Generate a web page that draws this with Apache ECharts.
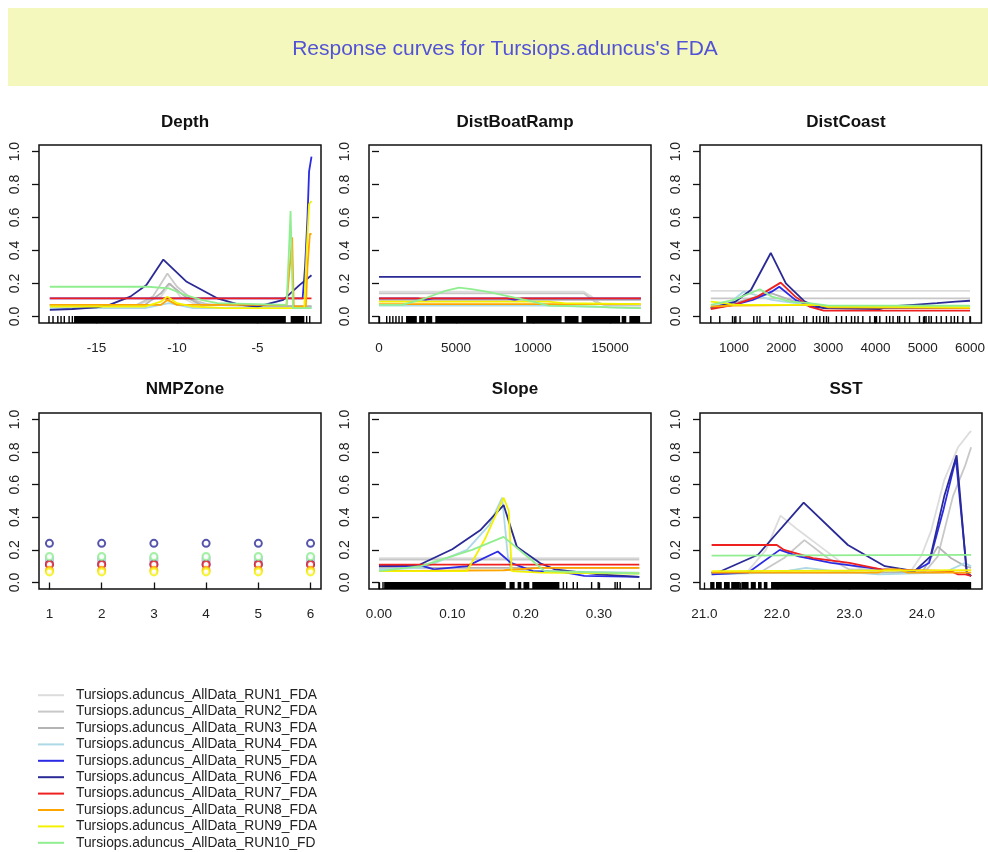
<!DOCTYPE html>
<html>
<head>
<meta charset="utf-8">
<script src="https://cdn.jsdelivr.net/npm/echarts@6/dist/echarts.min.js"></script>
<style>
html,body{margin:0;padding:0;background:#fff;}
#chart{width:988px;height:852px;}
</style>
</head>
<body>
<div id="chart"></div>
<script>
// ---------------- DATA ----------------
const mainTitle = "Response curves for Tursiops.aduncus's FDA";
const panelTitles = ["Depth", "DistBoatRamp", "DistCoast", "NMPZone", "Slope", "SST"];
const runNames = [
  "Tursiops.aduncus_AllData_RUN1_FDA", "Tursiops.aduncus_AllData_RUN2_FDA",
  "Tursiops.aduncus_AllData_RUN3_FDA", "Tursiops.aduncus_AllData_RUN4_FDA",
  "Tursiops.aduncus_AllData_RUN5_FDA", "Tursiops.aduncus_AllData_RUN6_FDA",
  "Tursiops.aduncus_AllData_RUN7_FDA", "Tursiops.aduncus_AllData_RUN8_FDA",
  "Tursiops.aduncus_AllData_RUN9_FDA", "Tursiops.aduncus_AllData_RUN10_FDA"
];
const runColors = ["#dcdcdc", "#c8c8c8", "#b4b4b4", "#add8e6", "#2b2be6", "#2a2a96",
                   "#ee2020", "#ffa500", "#f2f200", "#90ee90"];

const yTicks = [0, 0.2, 0.4, 0.6, 0.8, 1.0];

// Depth
const depthTicks = [-15, -10, -5];
const depthCurves = [
  [[-17.9,0.07],[-12.5,0.07],[-11,0.12],[-10.4,0.2],[-9.8,0.12],[-9,0.08],[-7,0.07],[-1.65,0.06]],
  [[-17.9,0.07],[-12.5,0.07],[-11.5,0.12],[-10.6,0.26],[-10,0.18],[-9,0.1],[-8,0.07],[-1.65,0.06]],
  [[-17.9,0.07],[-12,0.07],[-11,0.14],[-10.5,0.2],[-9.5,0.12],[-8.5,0.07],[-1.65,0.06]],
  [[-17.9,0.05],[-12,0.05],[-10.5,0.08],[-9,0.05],[-1.65,0.05]],
  [[-17.9,0.11],[-2.2,0.11],[-2.05,0.3],[-1.9,0.6],[-1.8,0.88],[-1.65,0.97]],
  [[-17.9,0.04],[-16.5,0.045],[-15,0.055],[-14.2,0.07],[-12.9,0.12],[-11.9,0.19],[-10.85,0.345],[-9.4,0.21],[-7.5,0.11],[-6.1,0.07],[-5,0.06],[-3.4,0.1],[-2.4,0.19],[-1.65,0.25]],
  [[-17.9,0.11],[-1.65,0.11]],
  [[-17.9,0.07],[-11,0.07],[-10.6,0.1],[-10,0.07],[-3.2,0.07],[-3.0,0.3],[-2.85,0.48],[-2.75,0.06],[-2.0,0.06],[-1.9,0.3],[-1.75,0.5],[-1.65,0.5]],
  [[-17.9,0.06],[-12,0.06],[-11,0.09],[-10.6,0.12],[-10,0.08],[-9,0.06],[-7,0.05],[-2.1,0.05],[-1.95,0.4],[-1.8,0.68],[-1.65,0.7]],
  [[-17.9,0.18],[-11.8,0.18],[-10.5,0.17],[-9.5,0.13],[-8.5,0.1],[-7.5,0.08],[-3.2,0.07],[-3.05,0.4],[-2.95,0.64],[-2.8,0.05],[-1.65,0.05]]
];
const depthRug = [[-17.95,-17.95],[-17.7,-17.7],[-17.4,-17.4],[-17.2,-17.2],[-17.0,-17.0],[-16.7,-16.7],[-16.5,-16.5],
  [-16.35,-3.2],[-2.9,-2.05],[-1.95,-1.95],[-1.76,-1.76]];

// DistBoatRamp
const boatTicks = [0, 5000, 10000, 15000];
const boatCurves = [
  [[0,0.15],[13300,0.15],[13800,0.12],[14500,0.07],[17000,0.07]],
  [[0,0.14],[13300,0.14],[14000,0.09],[14800,0.065],[17000,0.065]],
  [[0,0.1],[17000,0.1]],
  [[0,0.065],[11000,0.065],[15000,0.055],[17000,0.05]],
  [[0,0.11],[2500,0.11],[3000,0.1],[3500,0.11],[8300,0.11],[8800,0.1],[9300,0.11],[17000,0.11]],
  [[0,0.24],[17000,0.24]],
  [[0,0.11],[17000,0.11]],
  [[0,0.075],[17000,0.075]],
  [[0,0.09],[11000,0.09],[12000,0.08],[17000,0.075]],
  [[0,0.07],[1500,0.07],[3000,0.11],[4300,0.155],[5200,0.175],[6000,0.165],[7000,0.15],[8500,0.12],[10000,0.09],[11000,0.065],[14000,0.06],[15000,0.055],[17000,0.05]]
];
const boatRug = [[0,0],[500,500],[700,700],[900,900],[1100,1100],[1300,1300],[1500,1500],
  [1800,2500],[2650,3000],[3100,3500],[3700,9400],[9600,11900],[12100,13000],[13200,15700],[15800,16100],[16300,17000]];

// DistCoast
const coastTicks = [1000, 2000, 3000, 4000, 5000, 6000];
const coastCurves = [
  [[510,0.155],[6000,0.155]],
  [[510,0.11],[6000,0.11]],
  [[510,0.05],[1000,0.08],[1500,0.12],[1800,0.14],[2100,0.11],[2600,0.06],[6000,0.05]],
  [[510,0.06],[900,0.08],[1200,0.15],[1450,0.13],[1800,0.1],[2300,0.08],[2800,0.065],[6000,0.06]],
  [[510,0.05],[1000,0.07],[1400,0.1],[1800,0.15],[1960,0.18],[2300,0.1],[2700,0.055],[4000,0.05],[4650,0.05],[6000,0.05]],
  [[510,0.05],[1020,0.088],[1360,0.16],[1780,0.385],[2100,0.2],[2500,0.09],[2700,0.065],[2900,0.05],[4100,0.045],[4300,0.06],[4800,0.07],[5300,0.08],[5700,0.09],[6000,0.095]],
  [[510,0.045],[1000,0.07],[1500,0.12],[1990,0.205],[2300,0.12],[2600,0.06],[2900,0.035],[6000,0.035]],
  [[510,0.06],[1000,0.065],[2800,0.07],[3000,0.055],[6000,0.05]],
  [[510,0.09],[800,0.08],[1000,0.07],[2800,0.07],[3000,0.06],[6000,0.055]],
  [[510,0.07],[1000,0.1],[1550,0.165],[1800,0.12],[2200,0.09],[2600,0.08],[3000,0.065],[4600,0.065],[6000,0.065]]
];
const coastRug = [510,700,970,1040,1130,1420,1490,1550,1760,1960,2110,2180,2250,2480,2540,2680,2750,2820,2900,2960,
  3170,3280,3380,3490,3560,3630,3730,3880,3980,4020,4090,4230,4300,4370,4470,4510,4620,4720,4930,5040,5070,5130,
  5180,5290,5390,5500,5600,5670,5740,5850,6000];

// NMPZone
const nmpZones = [1, 2, 3, 4, 5, 6];
const nmpValues = [0.15, 0.14, 0.13, 0.15, 0.11, 0.24, 0.11, 0.075, 0.065, 0.16];

// Slope
const slopeTicks = [0, 0.1, 0.2, 0.3];
const slopeCurves = [
  [[0,0.15],[0.355,0.15]],
  [[0,0.14],[0.355,0.14]],
  [[0,0.09],[0.355,0.09]],
  [[0,0.08],[0.06,0.09],[0.12,0.2],[0.15,0.35],[0.168,0.52],[0.176,0.15],[0.18,0.08],[0.22,0.07],[0.355,0.06]],
  [[0,0.1],[0.06,0.1],[0.075,0.08],[0.12,0.1],[0.162,0.19],[0.18,0.12],[0.21,0.07],[0.25,0.065],[0.28,0.04],[0.355,0.035]],
  [[0,0.1],[0.056,0.11],[0.1,0.204],[0.138,0.32],[0.17,0.475],[0.188,0.22],[0.22,0.118],[0.24,0.08],[0.26,0.07],[0.3,0.05],[0.355,0.035]],
  [[0,0.11],[0.355,0.11]],
  [[0,0.07],[0.17,0.075],[0.22,0.09],[0.355,0.09]],
  [[0,0.07],[0.12,0.07],[0.145,0.27],[0.17,0.52],[0.177,0.44],[0.181,0.07],[0.22,0.06],[0.355,0.055]],
  [[0,0.07],[0.057,0.1],[0.127,0.2],[0.17,0.28],[0.21,0.13],[0.226,0.07],[0.355,0.055]]
];
const slopeRug = [[0,0],[0.0055,0.0055],[0.008,0.174],[0.179,0.186],[0.19,0.195],[0.198,0.206],[0.21,0.247],
  [0.2515,0.2515],[0.256,0.256],[0.265,0.265],[0.2705,0.2705],[0.29,0.29],[0.299,0.299],[0.322,0.322],[0.325,0.325],[0.329,0.329],[0.355,0.355]];

// SST
const sstTicks = [21, 21.5, 22, 22.5, 23, 23.5, 24, 24.5];
const sstLabels = [21, 22, 23, 24];
const sstCurves = [
  [[21.1,0.06],[21.6,0.07],[21.85,0.2],[22.05,0.41],[22.3,0.32],[22.6,0.22],[22.9,0.12],[23.3,0.07],[23.85,0.07],[24.0,0.17],[24.13,0.32],[24.31,0.63],[24.5,0.83],[24.64,0.91],[24.68,0.93]],
  [[21.1,0.06],[21.8,0.07],[22.1,0.15],[22.38,0.26],[22.7,0.15],[23.0,0.08],[24.05,0.07],[24.22,0.16],[24.43,0.53],[24.6,0.72],[24.68,0.83]],
  [[21.1,0.06],[24.0,0.06],[24.22,0.22],[24.4,0.15],[24.6,0.1],[24.68,0.09]],
  [[21.1,0.05],[22.0,0.06],[22.4,0.09],[22.8,0.07],[23.4,0.05],[24.3,0.06],[24.6,0.12],[24.68,0.1]],
  [[21.1,0.05],[21.6,0.06],[22.04,0.2],[22.3,0.16],[22.75,0.12],[23.44,0.08],[23.9,0.07],[24.1,0.12],[24.3,0.45],[24.47,0.76],[24.57,0.3],[24.62,0.06],[24.68,0.04]],
  [[21.1,0.06],[21.21,0.066],[21.74,0.17],[22.37,0.49],[22.98,0.23],[23.49,0.1],[23.9,0.07],[24.12,0.16],[24.31,0.53],[24.48,0.78],[24.58,0.26],[24.62,0.06],[24.68,0.04]],
  [[21.1,0.23],[22.0,0.23],[22.1,0.2],[22.5,0.15],[23.0,0.12],[23.44,0.08],[24.4,0.07],[24.5,0.05],[24.6,0.05],[24.68,0.04]],
  [[21.1,0.06],[23.4,0.06],[23.5,0.08],[23.7,0.08],[23.8,0.06],[24.68,0.06]],
  [[21.1,0.07],[24.68,0.075]],
  [[21.1,0.165],[24.68,0.17]]
];
const sstRug = [[21.09,21.15],[21.17,21.25],[21.28,21.36],[21.38,21.5],[21.52,21.62],[21.65,21.72],[21.75,21.8],[21.83,21.88],[21.93,24.69]];

// ---------------- LAYOUT ----------------
const FONT = "Liberation Sans, Arial, sans-serif";
const Y_MIN = -0.04, Y_MAX = 1.04;
const boxes = [
  {left:39,  top:145, width:282, height:178},
  {left:369, top:145, width:282, height:178},
  {left:700, top:145, width:282, height:178},
  {left:39,  top:413, width:282, height:176},
  {left:369, top:413, width:282, height:176},
  {left:700, top:413, width:282, height:176}
];
const xCfg = [
  {min:-18.57, max:-1.06, ticks:depthTicks, labels:depthTicks, fmt:v=>String(v)},
  {min:-650, max:17660, ticks:boatTicks, labels:boatTicks, fmt:v=>String(v)},
  {min:281, max:6243, ticks:coastTicks, labels:coastTicks, fmt:v=>String(v)},
  {min:0.8, max:6.2, ticks:nmpZones, labels:nmpZones, fmt:v=>String(v)},
  {min:-0.0136, max:0.371, ticks:slopeTicks, labels:slopeTicks, fmt:v=>v.toFixed(2)},
  {min:20.94, max:24.83, ticks:sstTicks, labels:sstLabels, fmt:v=>v.toFixed(1)}
];

const grids = boxes.map(b => ({left:b.left, top:b.top, width:b.width, height:b.height,
  show:true, borderColor:'#111', borderWidth:1.5, backgroundColor:'#fff', containLabel:false}));

const xAxes = xCfg.map((c, i) => ({
  type:'value', gridIndex:i, min:c.min, max:c.max,
  axisLine:{show:false}, splitLine:{show:false},
  axisTick:{show:true, length:7, customValues:c.ticks, lineStyle:{color:'#111', width:1.3}},
  axisLabel:{show:true, customValues:c.labels, formatter:c.fmt, margin:18,
    fontSize:13.5, color:'#222', fontFamily:FONT}
}));
const yAxes = boxes.map((b, i) => ({
  type:'value', gridIndex:i, min:Y_MIN, max:Y_MAX,
  axisLine:{show:false}, splitLine:{show:false},
  axisTick:{show:true, length:7, customValues:yTicks, lineStyle:{color:'#111', width:1.3}},
  axisLabel:{show:true, customValues:yTicks, formatter:v=>v.toFixed(1), rotate:90, margin:17,
    fontSize:14, color:'#222', fontFamily:FONT}
}));

const titles = [{
  text: mainTitle, left: 500, top: 34, textAlign:'center',
  textStyle:{fontSize:21, fontWeight:'normal', color:'#5252d6', fontFamily:FONT}
}];
panelTitles.forEach((t, i) => {
  const b = boxes[i];
  titles.push({text:t, left:b.left + b.width/2, top:(i < 3 ? 109 : 376), textAlign:'center',
    textStyle:{fontSize:17, fontWeight:'bold', color:'#111', fontFamily:FONT}});
});

const series = [];
const curveSets = [depthCurves, boatCurves, coastCurves, null, slopeCurves, sstCurves];
curveSets.forEach((set, p) => {
  if (!set) return;
  set.forEach((pts, r) => {
    series.push({
      type:'line', name:runNames[r], xAxisIndex:p, yAxisIndex:p, data:pts,
      showSymbol:false, symbol:'none', clip:true, silent:true,
      lineStyle:{color:runColors[r], width:1.8}, itemStyle:{color:runColors[r]}
    });
  });
});
nmpValues.forEach((v, r) => {
  series.push({
    type:'scatter', name:runNames[r], xAxisIndex:3, yAxisIndex:3,
    data: nmpZones.map(z => [z, v]), symbol:'emptyCircle', symbolSize:7, silent:true,
    itemStyle:{color:runColors[r], borderColor:runColors[r], borderWidth:1.7}
  });
});

function rugRender(params, api) {
  const x0 = api.value(0), x1 = api.value(1);
  const p0 = api.coord([x0, Y_MIN]);
  const p1 = api.coord([x1, Y_MIN]);
  const w = Math.max(p1[0] - p0[0], 1.4);
  return {type:'rect', shape:{x:p0[0] - 0.7, y:p0[1] - 7, width:w, height:7}, style:{fill:'#000'}};
}
const rugSets = [[0, depthRug], [1, boatRug], [2, coastRug.map(v => [v, v])], [4, slopeRug], [5, sstRug]];
rugSets.forEach(([p, data]) => {
  series.push({type:'custom', xAxisIndex:p, yAxisIndex:p, data:data, renderItem:rugRender,
    encode:{x:[0,1], y:[]}, silent:true, clip:true, z:5});
});

const option = {
  animation:false,
  backgroundColor:'#fff',
  graphic:[{type:'rect', shape:{x:8, y:8, width:980, height:78}, style:{fill:'#f5f8bc'}, z:-10}],
  title: titles,
  grid: grids,
  xAxis: xAxes,
  yAxis: yAxes,
  legend: {
    data: runNames, orient:'vertical', left:38, top:687, height:190, padding:0,
    icon:'rect', itemWidth:26, itemHeight:2, itemGap:0, selectedMode:false,
    textStyle:{fontSize:13.8, color:'#222', fontFamily:FONT, lineHeight:16.4,
      padding:[0,0,0,7], width:244, overflow:'truncate', ellipsis:''}
  },
  series: series
};

const chart = echarts.init(document.getElementById('chart'), null, {renderer:'canvas'});
chart.setOption(option);
</script>
</body>
</html>
